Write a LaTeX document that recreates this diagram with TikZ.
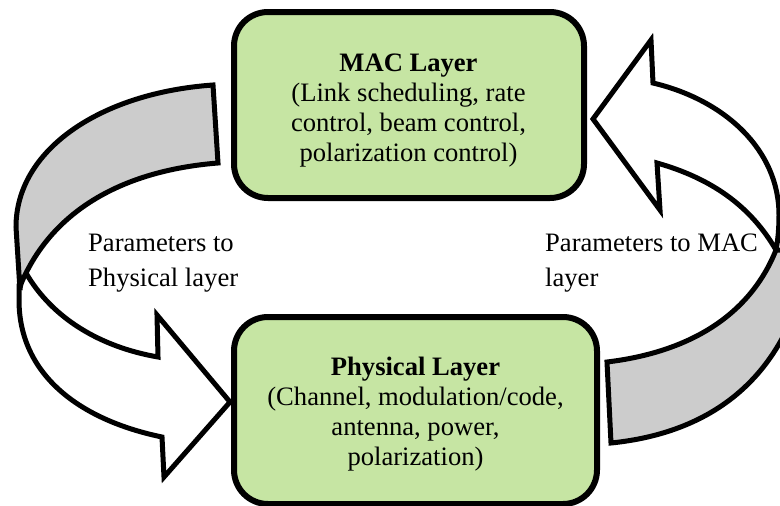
\documentclass[tikz,border=0pt]{standalone}
\usepackage{fontspec}
\setmainfont{Liberation Serif}
\begin{document}
\begin{tikzpicture}[x=1pt,y=-1pt,
  layerbox/.style={draw=black,line width=6pt,fill=boxgreen,rounded corners=34pt,anchor=north west,inner sep=0pt,outer sep=0pt},
  bandgray/.style={draw=black,line width=5pt,fill=bandfill,line join=miter,miter limit=10},
  bandwhite/.style={draw=black,line width=5pt,fill=white,line join=miter,miter limit=10},
  body/.style={align=center,font=\fontsize{26.6}{30}\selectfont,text=black},
  side/.style={align=left,anchor=north west,font=\fontsize{26.6}{35}\selectfont,inner sep=0pt,text=black}]
\definecolor{boxgreen}{HTML}{C6E5A3}
\definecolor{bandfill}{HTML}{CCCCCC}
\useasboundingbox (0,0) rectangle (780,506);
% left arrow
\draw[bandwhite] (26,273) .. controls (52,318) and (100,347) .. (158,357)
  -- (157,315) -- (230,402) -- (164,477) -- (162,437)
  .. controls (80,420) and (19,375) .. (19,300) -- (19,285) -- cycle;
\draw[bandgray] (213,85) .. controls (100,93) and (16,150) .. (16,227) -- (20,290)
  .. controls (20,285) and (22,281) .. (26,273)
  .. controls (60,205) and (130,170) .. (218,163) -- cycle;
% right arrow
\draw[bandwhite] (593,119) -- (651,40) -- (653,83)
  .. controls (725,100) and (779,150) .. (779,215) .. controls (779,228) and (778,240) .. (776,250)
  .. controls (750,205) and (710,178) .. (657,163) -- (660,210) -- cycle;
\draw[bandgray] (607,362) .. controls (690,352) and (750,315) .. (776,250)
  -- (784,250) -- (784,335) .. controls (750,400) and (690,435) .. (611,443) -- cycle;
% boxes
\node[layerbox,minimum width=350pt,minimum height=186pt] (mac) at (234,12) {};
\node[layerbox,minimum width=363pt,minimum height=187pt] (phy) at (234,317) {};
\node[body] (mactext) at (408.5,111) {\textbf{MAC Layer}\\(Link scheduling, rate\\control, beam control,\\polarization control)};
\node[body] (phytext) at (415.5,414) {\textbf{Physical Layer}\\(Channel, modulation/code,\\antenna, power,\\polarization)};
\node[side] (left) at (88,234) {Parameters to\\Physical layer};
\node[side] (right) at (545,234) {Parameters to MAC\\layer};
\end{tikzpicture}
\end{document}
